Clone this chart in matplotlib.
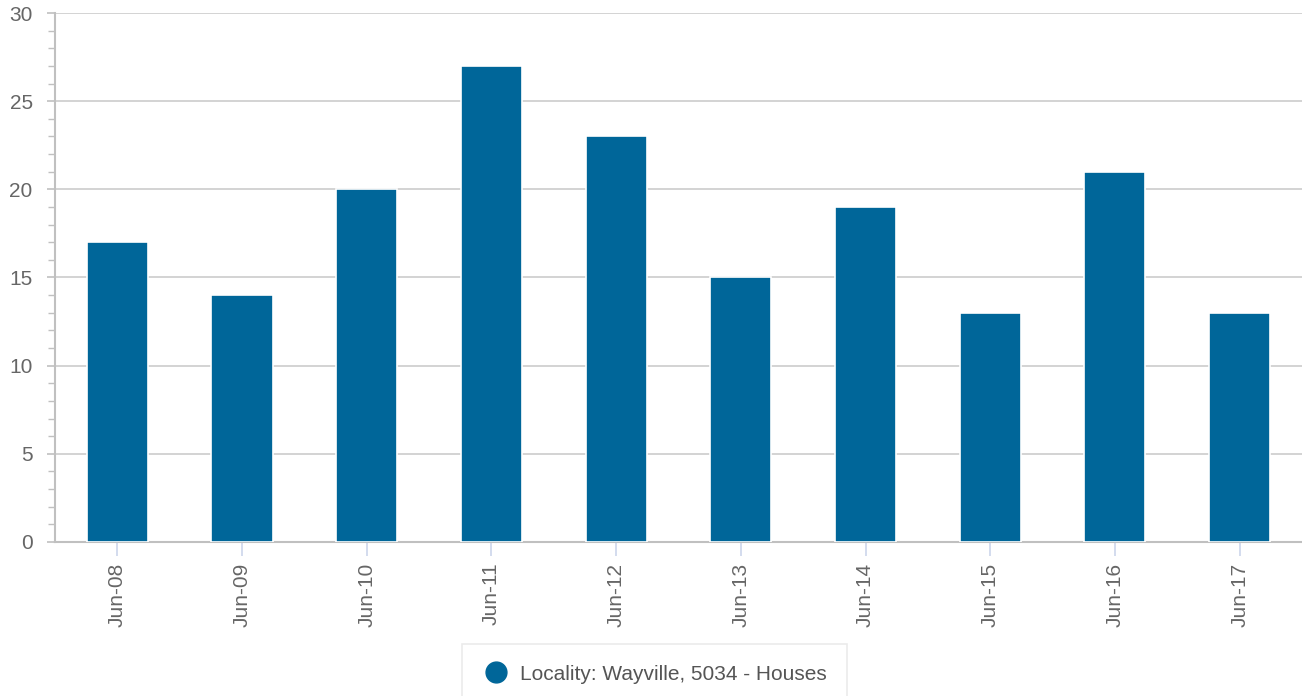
import matplotlib
matplotlib.use("Agg")
import matplotlib.pyplot as plt
from matplotlib.lines import Line2D
from matplotlib.ticker import MultipleLocator

# data
periods = ["Jun-08", "Jun-09", "Jun-10", "Jun-11", "Jun-12",
           "Jun-13", "Jun-14", "Jun-15", "Jun-16", "Jun-17"]
sales = [17, 14, 20, 27, 23, 15, 19, 13, 21, 13]
series_name = "Locality: Wayville, 5034 - Houses"

BAR_COLOR = "#006699"
TEXT_COLOR = "#666666"
GRID_COLOR = "#cccccc"

plt.rcParams["font.family"] = ["Liberation Sans", "DejaVu Sans"]

fig = plt.figure(figsize=(13.02, 6.96), dpi=100)
ax = fig.add_axes([0.0422, 0.2213, 0.9578, 0.76])

x = range(len(periods))
# thin white edge, so the gridlines stop short of each bar like the original
ax.bar(x, sales, width=0.49, color=BAR_COLOR, edgecolor="white",
       linewidth=1.2, zorder=3)

ax.set_xlim(-0.5, len(periods) - 0.5)
ax.set_ylim(0, 30)
ax.yaxis.set_major_locator(MultipleLocator(5))
ax.yaxis.set_minor_locator(MultipleLocator(1))
ax.grid(axis="y", which="major", color=GRID_COLOR, lw=1.2, zorder=0)

ax.set_xticks(list(x))
ax.set_xticklabels(periods, rotation=90)

for side in ("top", "right"):
    ax.spines[side].set_visible(False)
for side in ("left", "bottom"):
    ax.spines[side].set_color("#c0c0c0")
    ax.spines[side].set_linewidth(1.5)

ax.tick_params(axis="y", which="major", length=6, width=1.2, color="#c0c0c0",
               labelsize=15, labelcolor=TEXT_COLOR, pad=10)
ax.tick_params(axis="y", which="minor", length=5, width=1.0, color="#c0c0c0")
ax.tick_params(axis="x", length=10, width=1.2, color="#ccd6eb",
               labelsize=15, labelcolor=TEXT_COLOR, pad=5)

handle = Line2D([], [], marker="o", ls="none", markersize=15,
                markerfacecolor=BAR_COLOR, markeredgecolor=BAR_COLOR)
leg = fig.legend([handle], [series_name], loc="upper center",
                 bbox_to_anchor=(0.503, 0.075), frameon=True, fancybox=False,
                 edgecolor="#e6e6e6", fontsize=15, borderpad=1.0,
                 handletextpad=0.55, handlelength=1.2, borderaxespad=0)
leg.get_frame().set_linewidth(1.2)
for t in leg.get_texts():
    t.set_color("#555555")

fig.savefig("out.png", dpi=100)
